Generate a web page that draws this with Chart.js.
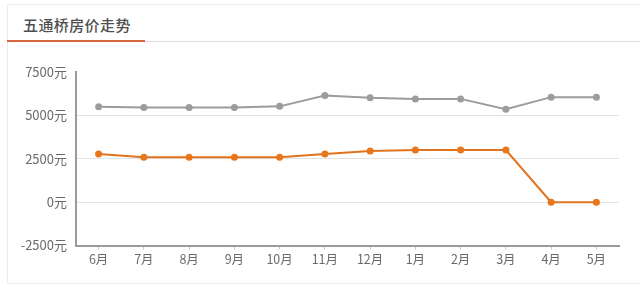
<!DOCTYPE html>
<html>
<head>
<meta charset="utf-8">
<script src="https://cdn.jsdelivr.net/npm/chart.js@4.4.1/dist/chart.umd.min.js"></script>
<style>
  html, body { margin: 0; padding: 0; background: #fff; width: 640px; height: 289px; overflow: hidden; }
  #card { position: absolute; left: 7px; top: 4px; width: 640px; height: 278px; border-top: 1px solid #ececec; border-left: 1px solid #ececec; border-bottom: 1px solid #ececec; }
  #hdr { position: absolute; left: 7px; top: 41px; width: 640px; height: 0; border-top: 1px solid #dcdcdc; }
  #uline { position: absolute; left: 7px; top: 40px; width: 138px; height: 2px; background: #d8673f; }
  #title { position: absolute; left: 23px; top: 14px; font-family: "Noto Sans CJK SC", sans-serif; font-size: 15px; line-height: 22px; color: #505050; font-weight: 500; letter-spacing: 0.4px; }
  #wrap { position: absolute; left: 0; top: 0; width: 640px; height: 289px; }
</style>
</head>
<body>
<div id="card"></div>
<div id="hdr"></div>
<div id="uline"></div>
<div id="title">五通桥房价走势</div>
<div id="wrap"><canvas id="c" width="640" height="289"></canvas></div>
<script>
const categories = ["6月","7月","8月","9月","10月","11月","12月","1月","2月","3月","4月","5月"];
const greySeries = [5500, 5450, 5450, 5450, 5520, 6150, 6020, 5950, 5950, 5350, 6050, 6050];
const orangeSeries = [2780, 2580, 2580, 2580, 2580, 2780, 2950, 3000, 3000, 3000, 0, 0];
const yTicks = [-2500, 0, 2500, 5000, 7500];

new Chart(document.getElementById('c'), {
  type: 'line',
  data: {
    labels: categories,
    datasets: [
      {
        data: greySeries,
        borderColor: '#9c9c9c',
        backgroundColor: '#9c9c9c',
        borderWidth: 2,
        pointRadius: 3.5,
        pointBorderWidth: 0,
        tension: 0,
        fill: false
      },
      {
        data: orangeSeries,
        borderColor: '#e2731e',
        backgroundColor: '#e8761a',
        borderWidth: 2,
        pointRadius: 3.5,
        pointBorderWidth: 0,
        tension: 0,
        fill: false
      }
    ]
  },
  options: {
    responsive: false,
    animation: false,
    devicePixelRatio: 1,
    layout: { padding: { left: 0, right: 21, top: 72, bottom: 0 } },
    plugins: { legend: { display: false }, tooltip: { enabled: false } },
    scales: {
      x: {
        offset: true,
        grid: { drawOnChartArea: false, drawTicks: true, tickLength: 4, color: '#c8c8c8', offset: false },
        border: { display: true, color: '#9a9a9a', width: 2 },
        ticks: { color: '#6a6a6a', font: { family: '"Noto Sans CJK SC", sans-serif', size: 12.5 }, padding: 2, maxRotation: 0, autoSkip: false },
        afterFit: (s) => { s.height = 289 - 245.5; }
      },
      y: {
        min: yTicks[0],
        max: yTicks[yTicks.length - 1],
        afterBuildTicks: (s) => { s.ticks = yTicks.map(v => ({ value: v })); },
        grid: {
          drawTicks: false,
          color: (ctx) => (ctx.tick && ctx.tick.value === 7500) ? 'rgba(0,0,0,0)' : '#e2e2e2',
          lineWidth: 1
        },
        border: { display: true, color: '#9a9a9a', width: 2 },
        ticks: {
          color: '#6a6a6a',
          font: { family: '"Noto Sans CJK SC", sans-serif', size: 13 },
          padding: 9,
          callback: (v) => v + '元'
        },
        afterFit: (s) => { s.width = 76; }
      }
    }
  }
});
</script>
</body>
</html>
